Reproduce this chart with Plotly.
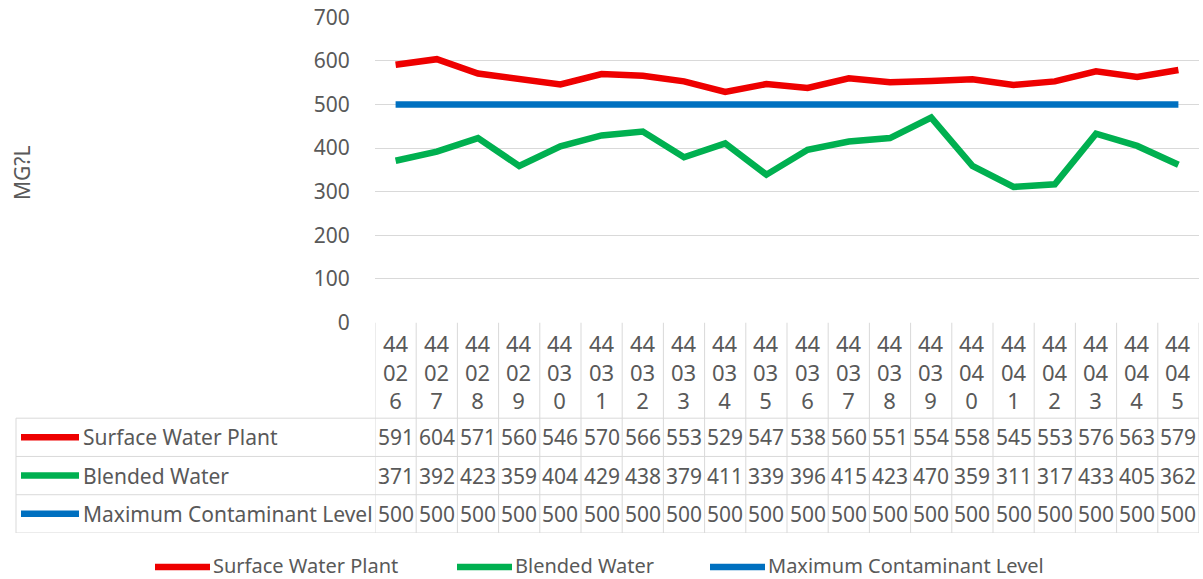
import plotly.graph_objects as go

# ---------------- data ----------------
categories = ["44026", "44027", "44028", "44029", "44030", "44031", "44032", "44033", "44034", "44035",
              "44036", "44037", "44038", "44039", "44040", "44041", "44042", "44043", "44044", "44045"]
surface_water_plant = [591, 604, 571, 560, 546, 570, 566, 553, 529, 547,
                       538, 560, 551, 554, 558, 545, 553, 576, 563, 579]
blended_water = [371, 392, 423, 359, 404, 429, 438, 379, 411, 339,
                 396, 415, 423, 470, 359, 311, 317, 433, 405, 362]
max_contaminant_level = [500] * 20
series_names = ["Surface Water Plant", "Blended Water", "Maximum Contaminant Level"]
y_title = "MG?L"
y_ticks = [0, 100, 200, 300, 400, 500, 600, 700]

# ---------------- layout constants (pixels) ----------------
W, H = 1203, 579
PLOT_L, PLOT_R = 375, 1199
PLOT_T, PLOT_B = 17.3, 322.5
TABLE_L, TABLE_B = 16, 533
LEGEND_Y = 567
FONT = "Noto Sans"
FS = 21
TXT = "#595959"
GRID = "#d9d9d9"
colors = ["#EE0000", "#00B050", "#0070C0"]
LW = 6.5


def fx(p):
    return p / W


def fy(p):
    return 1 - p / H


series = [surface_water_plant, blended_water, max_contaminant_level]
idx = list(range(len(categories)))

fig = go.Figure()
for name, vals, col in zip(series_names, series, colors):
    fig.add_trace(go.Scatter(x=idx, y=vals, mode="lines", name=name,
                             line=dict(color=col, width=LW), showlegend=False,
                             hoverinfo="skip"))
# empty trace to create the table sub-axis
fig.add_trace(go.Scatter(x=[], y=[], xaxis="x", yaxis="y2", showlegend=False))

shapes = []
annotations = []

# table: header row spans 0..2.5, data rows 2.5..5.5 (y2 units, reversed)
n = len(categories)
for i in range(n + 1):
    shapes.append(dict(type="line", xref="x", yref="y2", x0=i - 0.5, x1=i - 0.5, y0=0, y1=5.5,
                       line=dict(color=GRID, width=1), layer="below"))
for r in [2.5, 3.5, 4.5, 5.5]:
    shapes.append(dict(type="line", xref="paper", yref="y2", x0=fx(TABLE_L), x1=fx(PLOT_R), y0=r, y1=r,
                       line=dict(color=GRID, width=1), layer="below"))
shapes.append(dict(type="line", xref="paper", yref="y2", x0=fx(TABLE_L), x1=fx(TABLE_L), y0=2.5, y1=5.5,
                   line=dict(color=GRID, width=1), layer="below"))

# header labels
for i, c in enumerate(categories):
    annotations.append(dict(x=i, y=1.27, xref="x", yref="y2", showarrow=False,
                            text="<br>".join([c[0:2], c[2:4], c[4:]]),
                            font=dict(family=FONT, size=22, color=TXT),
                            xanchor="center", yanchor="middle"))

# row keys, labels and values
for r, (name, vals, col) in enumerate(zip(series_names, series, colors)):
    ry = 3 + r
    shapes.append(dict(type="line", xref="paper", yref="y2", x0=fx(21), x1=fx(79), y0=ry, y1=ry,
                       line=dict(color=col, width=LW)))
    annotations.append(dict(x=fx(81), y=ry, xref="paper", yref="y2", showarrow=False, text=name,
                            font=dict(family=FONT, size=FS, color=TXT), xanchor="left", yanchor="middle"))
    for i, v in enumerate(vals):
        annotations.append(dict(x=i, y=ry, xref="x", yref="y2", showarrow=False, text=str(v),
                                font=dict(family=FONT, size=FS, color=TXT),
                                xanchor="center", yanchor="middle"))

# bottom legend
legend_keys = [(155, 210), (457, 512), (710, 765)]
for (k0, k1), name, col in zip(legend_keys, series_names, colors):
    shapes.append(dict(type="line", xref="paper", yref="paper", x0=fx(k0), x1=fx(k1),
                       y0=fy(LEGEND_Y), y1=fy(LEGEND_Y), line=dict(color=col, width=LW)))
    annotations.append(dict(x=fx(k1 + 2), y=fy(LEGEND_Y - 2), xref="paper", yref="paper", showarrow=False,
                            text=name, font=dict(family=FONT, size=20, color=TXT),
                            xanchor="left", yanchor="middle", borderpad=0))

# y-axis title
annotations.append(dict(x=fx(22), y=fy(173), xref="paper", yref="paper", showarrow=False, text=y_title,
                        textangle=-90, font=dict(family=FONT, size=FS, color=TXT),
                        xanchor="center", yanchor="middle"))

fig.update_layout(
    width=W, height=H,
    margin=dict(l=0, r=0, t=0, b=0, pad=0),
    paper_bgcolor="white", plot_bgcolor="white",
    showlegend=False,
    xaxis=dict(domain=[fx(PLOT_L), fx(PLOT_R)], range=[-0.5, n - 0.5], showgrid=False,
               zeroline=False, showticklabels=False, showline=False, fixedrange=True,
               automargin=False),
    yaxis=dict(domain=[fy(PLOT_B), fy(PLOT_T)], range=[0, 700], tickvals=y_ticks,
               showgrid=True, gridcolor=GRID, gridwidth=1, zeroline=False, showline=False,
               ticks="outside", ticklen=20, tickcolor="rgba(0,0,0,0)",
               tickfont=dict(family=FONT, size=FS, color=TXT), fixedrange=True,
               automargin=False),
    yaxis2=dict(domain=[fy(TABLE_B), fy(PLOT_B)], range=[5.5, 0], anchor="x", visible=False,
                fixedrange=True, automargin=False),
    shapes=shapes,
    annotations=annotations,
    font=dict(family=FONT, size=FS, color=TXT),
)

fig.write_html("out.html", config={"displayModeBar": False})
